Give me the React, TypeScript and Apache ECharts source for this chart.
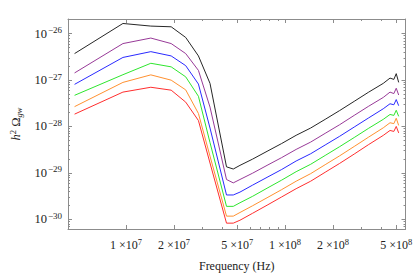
import React, { useEffect, useRef } from "react";
import * as echarts from "echarts";

// Frequency grid (Hz)
const frequencies = [4.74e6, 9.55e6, 1.43e7, 1.92e7, 2.37e7, 2.85e7, 3.37e7, 4.28e7, 4.72e7, 5.2e7, 6.25e7, 7.7e7, 9.51e7, 1.173e8, 1.448e8, 1.786e8, 2.204e8, 2.72e8, 3.357e8, 4.142e8, 4.57e8, 4.83e8, 5.0e8, 5.18e8];

// h^2 Omega_gw for each curve
const blackValues = [3.71e-27, 1.65e-26, 1.45e-26, 1.40e-26, 8.25e-27, 3.30e-27, 8.46e-28, 1.35e-29, 1.21e-29, 1.45e-29, 1.98e-29, 2.91e-29, 4.28e-29, 6.44e-29, 9.24e-29, 1.42e-28, 2.20e-28, 3.47e-28, 5.49e-28, 8.46e-28, 1.10e-27, 1.03e-27, 1.37e-27, 8.88e-28];
const purpleValues = [1.42e-27, 6.09e-27, 8.01e-27, 6.09e-27, 3.71e-27, 1.61e-27, 2.61e-28, 7.20e-30, 6.09e-30, 7.20e-30, 9.85e-30, 1.45e-29, 2.13e-29, 3.20e-29, 4.60e-29, 7.09e-29, 1.09e-28, 1.73e-28, 2.73e-28, 4.21e-28, 5.49e-28, 5.10e-28, 6.65e-28, 4.75e-28];
const blueValues = [8.06e-28, 3.06e-27, 4.08e-27, 3.30e-27, 2.04e-27, 8.18e-28, 9.24e-29, 3.34e-30, 3.34e-30, 3.85e-30, 5.45e-30, 8.01e-30, 1.18e-29, 1.80e-29, 2.58e-29, 3.98e-29, 6.14e-29, 9.70e-29, 1.53e-28, 2.40e-28, 3.08e-28, 2.93e-28, 3.79e-28, 2.80e-28];
const greenValues = [4.68e-28, 1.30e-27, 2.29e-27, 1.92e-27, 1.17e-27, 4.46e-28, 4.49e-29, 1.90e-30, 1.90e-30, 2.27e-30, 3.13e-30, 4.67e-30, 6.97e-30, 1.06e-29, 1.53e-29, 2.37e-29, 3.67e-29, 5.77e-29, 9.15e-29, 1.42e-28, 1.81e-28, 1.73e-28, 2.23e-28, 1.65e-28];
const orangeValues = [2.67e-28, 8.88e-28, 1.29e-27, 9.92e-28, 6.13e-28, 1.90e-28, 2.29e-29, 1.17e-30, 1.17e-30, 1.40e-30, 1.96e-30, 2.91e-30, 4.35e-30, 6.61e-30, 9.62e-30, 1.50e-29, 2.33e-29, 3.70e-29, 5.91e-29, 9.33e-29, 1.20e-28, 1.15e-28, 1.50e-28, 1.05e-28];
const redValues = [1.84e-28, 5.49e-28, 6.98e-28, 6.04e-28, 3.34e-28, 1.34e-28, 1.63e-29, 8.26e-31, 8.26e-31, 9.54e-31, 1.35e-30, 2.01e-30, 3.03e-30, 4.56e-30, 6.61e-30, 1.03e-29, 1.60e-29, 2.54e-29, 4.08e-29, 6.41e-29, 8.19e-29, 7.81e-29, 1.00e-28, 7.26e-29];

const seriesList = [
  { name: "black", values: blackValues, color: "#262626" },
  { name: "purple", values: purpleValues, color: "#983a98" },
  { name: "blue", values: blueValues, color: "#2a2aff" },
  { name: "green", values: greenValues, color: "#2ee62e" },
  { name: "orange", values: orangeValues, color: "#ff9130" },
  { name: "red", values: redValues, color: "#ff2e2e" },
];

// Axis ranges and ticks
const freqMin = 4.31e6;
const freqMax = 5.72e8;
const omegaMin = 6.18e-31;
const omegaMax = 2.06e-26;
const xMajorTicks = [1e7, 2e7, 5e7, 1e8, 2e8, 5e8];
const xMinorTicks = [3e7, 4e7, 6e7, 7e7, 8e7, 9e7, 3e8, 4e8];
const yMajorTicks = [1e-30, 1e-29, 1e-28, 1e-27, 1e-26];
const yMinorTicks = [
  7e-31, 8e-31, 9e-31,
  2e-30, 3e-30, 4e-30, 5e-30, 6e-30, 7e-30, 8e-30, 9e-30,
  2e-29, 3e-29, 4e-29, 5e-29, 6e-29, 7e-29, 8e-29, 9e-29,
  2e-28, 3e-28, 4e-28, 5e-28, 6e-28, 7e-28, 8e-28, 9e-28,
  2e-27, 3e-27, 4e-27, 5e-27, 6e-27, 7e-27, 8e-27, 9e-27,
  2e-26,
];

const FONT = "'Liberation Serif', 'DejaVu Serif', serif";
const FRAME = "#8c8c8c";
const TEXT = "#222";
const lg = (v: number) => Math.log10(v);

export default function App() {
  const ref = useRef<HTMLDivElement>(null);
  useEffect(() => {
    if (!ref.current) return;
    const chart = echarts.init(ref.current, null, { renderer: "svg" });

    const xRich = {
      n: { fontFamily: FONT, fontSize: 12, color: TEXT },
      s: { fontFamily: FONT, fontSize: 8.5, color: TEXT, padding: [0, 0, 7, 0] },
    };
    const yRich = {
      n: { fontFamily: FONT, fontSize: 12.5, color: TEXT },
      s: { fontFamily: FONT, fontSize: 9, color: TEXT, padding: [0, 0, 7, 1] },
    };

    const makeX = (position: "bottom" | "top", ticks: number[], len: number, labels: boolean, line: boolean) => ({
      type: "value",
      position,
      min: lg(freqMin),
      max: lg(freqMax),
      axisLine: { show: line, onZero: false, lineStyle: { color: FRAME, width: 1 } },
      axisTick: { show: true, inside: true, length: len, customValues: ticks.map(lg), lineStyle: { color: FRAME, width: 1 } },
      axisLabel: labels
        ? {
            show: true,
            customValues: ticks.map(lg),
            margin: 8,
            formatter: (v: number) => {
              const e = Math.floor(v + 1e-9);
              const m = Math.round(Math.pow(10, v - e));
              return `{n|${m} ×10}{s|${e}}`;
            },
            rich: xRich,
          }
        : { show: false },
      splitLine: { show: false },
      name: labels ? "Frequency (Hz)" : "",
      nameLocation: "middle",
      nameGap: 31,
      nameTextStyle: { fontFamily: FONT, fontSize: 12, color: TEXT },
    });

    const makeY = (position: "left" | "right", ticks: number[], len: number, labels: boolean, line: boolean) => ({
      type: "value",
      position,
      min: lg(omegaMin),
      max: lg(omegaMax),
      axisLine: { show: line, onZero: false, lineStyle: { color: FRAME, width: 1 } },
      axisTick: { show: true, inside: true, length: len, customValues: ticks.map(lg), lineStyle: { color: FRAME, width: 1 } },
      axisLabel: labels
        ? {
            show: true,
            customValues: ticks.map(lg),
            margin: 6,
            formatter: (v: number) => {
              const e = Math.round(v);
              return `{n|10}{s|−${Math.abs(e)}}`;
            },
            rich: yRich,
          }
        : { show: false },
      splitLine: { show: false },
      name: labels ? "{i|h}{p|2}{n| Ω}{b|gw}" : "",
      nameLocation: "middle",
      nameRotate: 90,
      nameGap: 44,
      nameTextStyle: {
        fontFamily: FONT,
        color: TEXT,
        rich: {
          i: { fontFamily: FONT, fontSize: 12.5, fontStyle: "italic", color: TEXT },
          p: { fontFamily: FONT, fontSize: 8.5, color: TEXT, padding: [0, 0, 7, 0] },
          n: { fontFamily: FONT, fontSize: 12.5, color: TEXT },
          b: { fontFamily: FONT, fontSize: 8.5, fontStyle: "italic", color: TEXT, padding: [6, 0, 0, 0] },
        },
      },
    });

    chart.setOption({
      animation: false,
      backgroundColor: "#ffffff",
      grid: { left: 59, right: 7, top: 19, bottom: 42, containLabel: false },
      xAxis: [
        makeX("bottom", xMajorTicks, 4, true, true),
        makeX("bottom", xMinorTicks, 2, false, false),
        makeX("top", xMajorTicks, 4, false, true),
        makeX("top", xMinorTicks, 2, false, false),
      ],
      yAxis: [
        makeY("left", yMajorTicks, 4, true, true),
        makeY("left", yMinorTicks, 2, false, false),
        makeY("right", yMajorTicks, 4, false, true),
        makeY("right", yMinorTicks, 2, false, false),
      ],
      series: seriesList.map((s) => ({
        type: "line",
        name: s.name,
        xAxisIndex: 0,
        yAxisIndex: 0,
        data: frequencies.map((f, i) => [lg(f), lg(s.values[i])]),
        showSymbol: false,
        symbol: "none",
        lineStyle: { color: s.color, width: 1 },
        clip: true,
      })),
    });
    return () => chart.dispose();
  }, []);
  return <div ref={ref} style={{ position: "fixed", left: 0, top: 0, width: 415, height: 277, background: "#fff" }} />;
}
